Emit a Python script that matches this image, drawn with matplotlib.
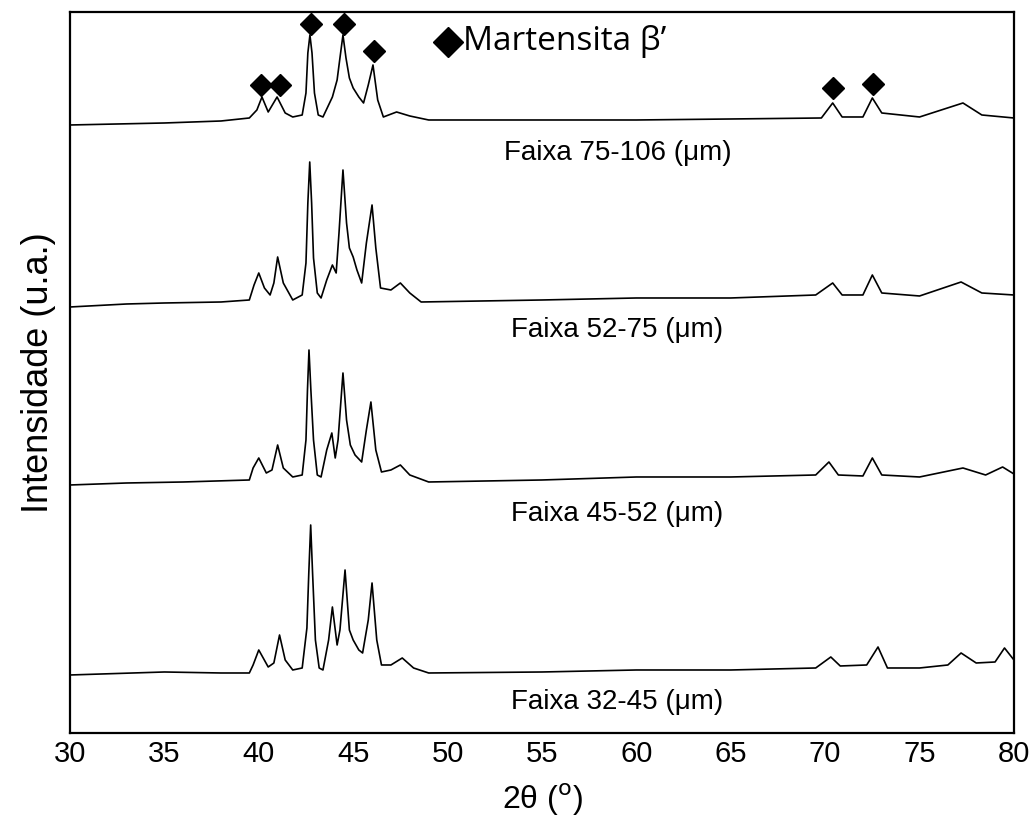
import matplotlib
matplotlib.use("Agg")
import matplotlib.pyplot as plt

# XRD patterns, intensities in a.u. above each curve's baseline
# Faixa 75-106
c1_x = [30, 35, 38, 39.5, 39.9, 40.17, 40.5, 40.97, 41.4, 41.8, 42.3, 42.5, 42.6, 42.71, 42.82,
        42.95, 43.15, 43.4, 43.9, 44.15, 44.3, 44.46, 44.62, 44.8, 45.0, 45.3, 45.55, 45.8, 46.05,
        46.3, 46.6, 47.3, 48.0, 49, 55, 60, 65, 69.8, 70.4, 70.9, 72.0, 72.5, 73.0, 75, 77.3,
        78.3, 80]
c1_y = [-2, 0, 2, 5, 13, 26, 11, 26, 10, 6, 8, 30, 70, 88, 70,
        30, 8, 6, 26, 43, 65, 88, 65, 45, 35, 26, 20, 38, 58,
        23, 6, 11, 7, 3, 3, 3, 4, 5, 20, 6, 6, 25, 10, 6, 20,
        8, 5]

# Faixa 52-75
c2_x = [30, 33, 35, 38, 39.5, 39.75, 40.0, 40.3, 40.6, 40.8, 41.0, 41.3, 41.8, 42.3, 42.5,
        42.6, 42.7, 42.8, 42.9, 43.1, 43.3, 43.6, 43.9, 44.1, 44.25, 44.46, 44.65, 44.8, 45.0,
        45.2, 45.45, 45.7, 46.0, 46.2, 46.45, 47.0, 47.5, 48.0, 48.6, 55, 60, 65, 69.5, 70.4,
        70.9, 72.0, 72.5, 73.0, 75, 77.2, 78.3, 80]
c2_y = [-4, -1, 0, 1, 3, 18, 30, 15, 8, 20, 46, 20, 3, 8, 40,
        100, 141, 100, 45, 10, 5, 23, 38, 30, 70, 133, 80, 55, 46,
        33, 20, 60, 98, 55, 15, 13, 20, 10, 1, 3, 5, 5, 8, 20,
        8, 8, 28, 10, 7, 21, 10, 8]

# Faixa 45-52
c3_x = [30, 33, 36, 39.5, 39.7, 40.0, 40.4, 40.7, 41.0, 41.3, 41.8, 42.3, 42.5, 42.58, 42.66,
        42.76, 42.9, 43.1, 43.3, 43.6, 43.87, 44.05, 44.2, 44.46, 44.65, 44.85, 45.1, 45.45,
        45.7, 45.94, 46.2, 46.5, 47.0, 47.5, 48.0, 49, 55, 60, 65, 69.5, 70.2, 70.7, 72.0,
        72.5, 73.0, 75, 77.3, 78.5, 79.4, 80]
c3_y = [-5, -3, -2, 0, 12, 22, 7, 10, 35, 12, 3, 5, 40, 90, 130,
        90, 40, 5, 3, 30, 47, 22, 40, 107, 60, 35, 25, 18,
        50, 78, 30, 8, 10, 15, 5, -2, 0, 3, 3, 5, 18, 5, 4,
        22, 5, 3, 12, 5, 13, 6]

# Faixa 32-45
c4_x = [30, 35, 38, 39.5, 39.7, 40.0, 40.5, 40.8, 41.1, 41.4, 41.8, 42.3, 42.55, 42.65, 42.75,
        42.85, 43.0, 43.2, 43.4, 43.7, 43.9, 44.15, 44.3, 44.57, 44.8, 45.0, 45.3, 45.5, 45.8,
        46.0, 46.25, 46.5, 47.0, 47.6, 48.2, 49, 55, 60, 65, 69.5, 70.3, 70.8, 72.2, 72.8,
        73.3, 75, 76.5, 77.2, 78, 79, 79.5, 80]
c4_y = [-2, 1, 0, 0, 8, 23, 6, 10, 38, 13, 3, 5, 45, 100, 148,
        100, 33, 5, 3, 33, 66, 28, 43, 103, 43, 33, 23, 20, 53,
        90, 33, 8, 8, 15, 5, 0, 1, 3, 3, 5, 16, 7, 8, 26,
        5, 5, 8, 20, 10, 11, 25, 13]

curves_x = [c1_x, c2_x, c3_x, c4_x]
curves_y = [c1_y, c2_y, c3_y, c4_y]
offsets = [610, 430, 253, 60]
labels = ["Faixa 75-106 (\u03bcm)", "Faixa 52-75 (\u03bcm)",
          "Faixa 45-52 (\u03bcm)", "Faixa 32-45 (\u03bcm)"]
label_y = [580, 403, 219, 31]

# martensite beta' peaks marked with diamonds (top pattern)
marker_x = [40.1, 41.1, 42.77, 44.52, 46.1, 70.4, 72.55]
marker_y = [648, 648, 709, 709, 682, 645, 649]

sans = ["Liberation Sans", "DejaVu Sans"]

fig = plt.figure(figsize=(10.32, 8.21), dpi=100)
ax = fig.add_axes([0.0678, 0.1072, 0.9147, 0.8782])

for xs, ys, off in zip(curves_x, curves_y, offsets):
    ax.plot(xs, [v + off for v in ys], color="black", linewidth=1.2)

for lab, ly in zip(labels, label_y):
    ax.text(59.0, ly, lab, ha="center", va="center", fontsize=20, family=sans)

ax.plot(marker_x, marker_y, linestyle="none", marker="D", color="black", markersize=11)
ax.plot([50.0], [691], linestyle="none", marker="D", color="black", markersize=15)
ax.text(50.8, 691, "Martensita \u03b2\u2019", ha="left", va="center", fontsize=24,
        family=["Open Sans", "DejaVu Sans"])

ax.set_xlim(30, 80)
ax.set_ylim(0, 721)
ax.set_xticks(range(30, 81, 5))
ax.set_yticks([])
ax.tick_params(axis="x", length=0, pad=5, labelsize=21)
for t in ax.get_xticklabels():
    t.set_family(sans)
for s in ax.spines.values():
    s.set_linewidth(1.6)

ax.set_xlabel("2\u03b8 ($^{\\rm o}$)", fontsize=23, family=sans, labelpad=10)
ax.set_ylabel("Intensidade (u.a.)", fontsize=26, family=sans, labelpad=10)

fig.savefig("out.png", dpi=100)
